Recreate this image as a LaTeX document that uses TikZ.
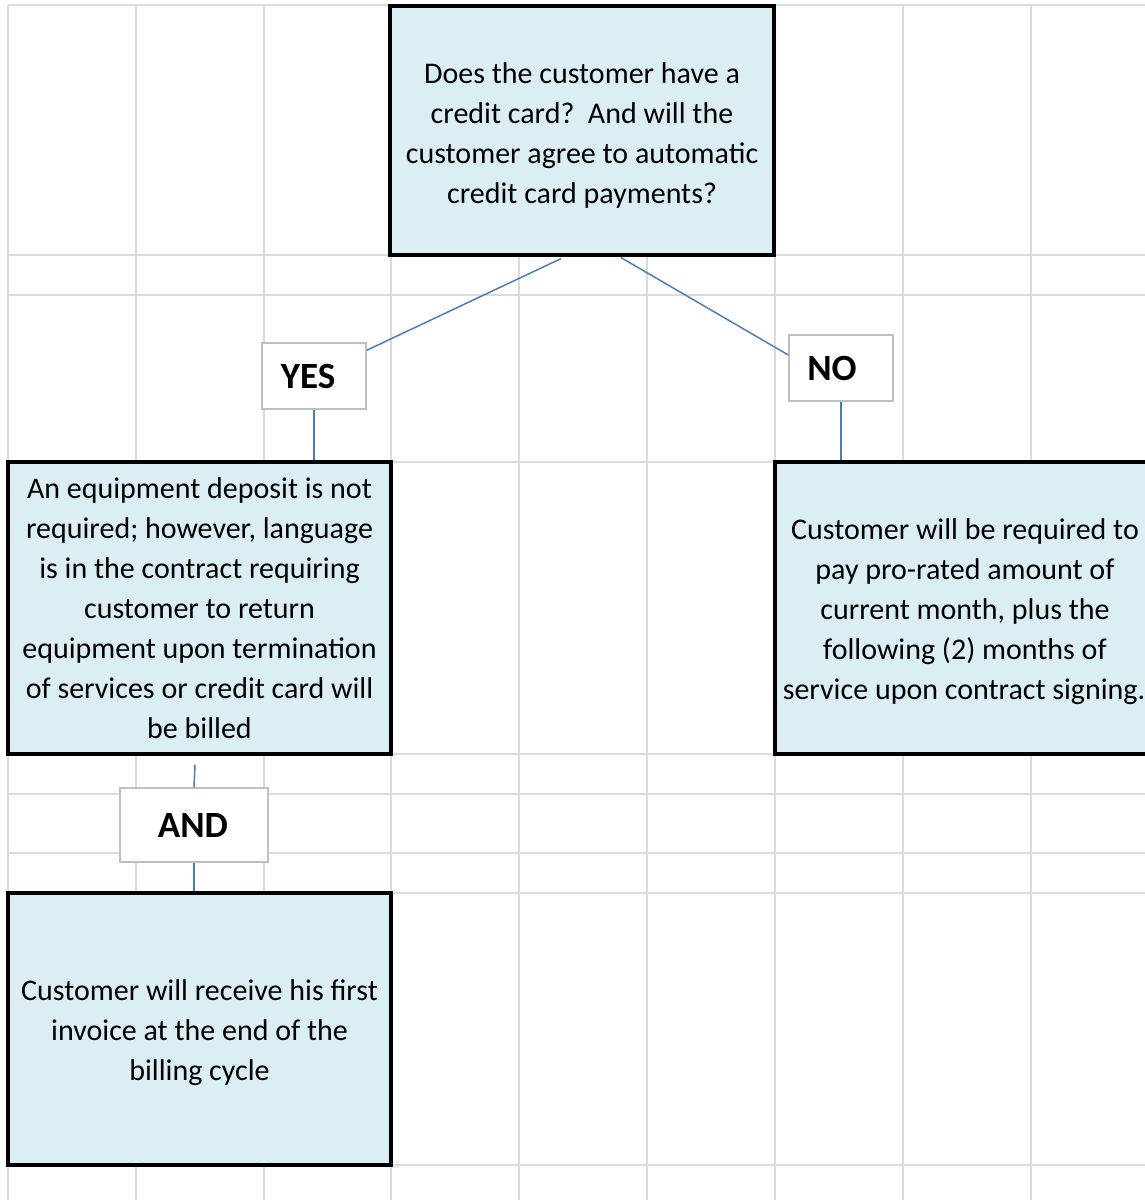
\documentclass[tikz,border=0pt]{standalone}
\usepackage{fontspec}
\setmainfont{Carlito}
\definecolor{boxfill}{HTML}{DAEEF3}
\definecolor{gridc}{HTML}{DADBDC}
\definecolor{lblborder}{HTML}{BFBFBF}
\definecolor{conn}{HTML}{4A7EBB}
\begin{document}
\begin{tikzpicture}[x=0.5pt,y=-0.5pt,
  mainbox/.style={draw=black,line width=1.6pt,fill=boxfill,inner sep=0pt,align=center,
    font=\fontsize{15}{20}\selectfont},
  lbl/.style={draw=lblborder,line width=0.7pt,fill=white,inner sep=0pt,
    font=\fontsize{18.5}{22}\selectfont\bfseries},
  connector/.style={draw=conn,line width=0.75pt},
  gridline/.style={draw=gridc,line width=1pt}]
\useasboundingbox (0,0) rectangle (1145,1200);
\clip (0,0) rectangle (1145,1200);
% grid
\foreach \gx in {8,136,264,391,519,647,775,903,1031}
  \draw[gridline] (\gx,5) -- (\gx,1200);
\foreach \gy in {5,255,295,462,754,794,853,893,1165}
  \draw[gridline] (8,\gy) -- (1145,\gy);
% boxes
\node[mainbox,minimum width=192pt,minimum height=124.5pt] (q) at (582,130.5)
  {\rule{0pt}{15pt}Does the customer have a\\credit card?\ \ And will the\\customer agree to automatic\\credit card payments?};
\node[mainbox,minimum width=191.5pt,minimum height=146pt] (l) at (199.5,608)
  {An equipment deposit is not\\required; however, language\\is in the contract requiring\\customer to return\\equipment upon termination\\of services or credit card will\\be billed};
\node[mainbox,minimum width=190pt,minimum height=146pt] (r) at (965,608)
  {\rule{0pt}{14pt}Customer will be required to\\pay pro-rated amount of\\current month, plus the\\following (2) months of\\service upon contract signing.\kern1pt};
\node[mainbox,minimum width=191.5pt,minimum height=136pt] (b) at (199.5,1029)
  {\rule{0pt}{14pt}Customer will receive his first\\invoice at the end of the\\billing cycle};
% labels
\node[lbl,minimum width=52pt,minimum height=33pt] (yes) at (314,376) {YES\kern6pt};
\node[lbl,minimum width=52pt,minimum height=33pt] (no) at (841,368) {NO\kern9pt};
\node[lbl,minimum width=74pt,minimum height=37pt] (and) at (194,825) {AND\kern1pt};
% connectors
\draw[connector] ([xshift=-10.5pt,yshift=-1pt]q.south) -- ([yshift=-4pt]yes.north east);
\draw[connector] ([xshift=19.5pt,yshift=-0.5pt]q.south) -- ([yshift=6.5pt]no.west);
\draw[connector] (yes.south) -- (yes.south |- l.north);
\draw[connector] (no.south) -- (no.south |- r.north);
\draw[connector] ([xshift=-2.25pt,yshift=-4.5pt]l.south) -- (and.north);
\draw[connector] (and.south) -- (and.south |- b.north);
\end{tikzpicture}
\end{document}
